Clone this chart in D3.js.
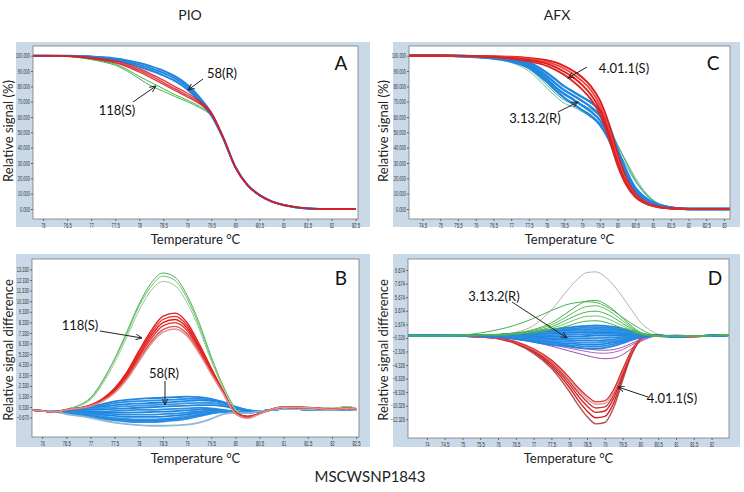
<!DOCTYPE html>
<html><head><meta charset="utf-8">
<script src="https://cdn.jsdelivr.net/npm/d3@7"></script>
<style>
body{margin:0;background:#fff;}
svg{display:block;font-family:Lato,"Open Sans",sans-serif;}
</style></head>
<body><svg id="c" width="744" height="492"></svg>
<script>
// ---------- DATA ----------
const tempA = [75.79,76,76.5,77,77.25,77.5,77.75,78,78.25,78.5,78.75,79,79.25,79.5,79.75,80,80.25,80.5,80.75,81,81.25,81.5,82,82.5];
const meltA_green118 = [
 [100,100,99.6,97.8,96.4,94.5,91.0,86.5,82.5,78.5,74.5,71.0,67.0,61.0,45.8,27.0,15.5,9.0,5.0,2.6,1.2,0.4,0,0],
 [100,100,99.5,97.5,95.9,93.8,90.0,85.0,80.2,76.8,73.3,70.0,66.2,60.5,45.6,26.9,15.5,9.0,5.0,2.6,1.2,0.4,0,0]];
const meltA_red118 = [
 [100,100,99.8,98.8,97.9,96.6,94.5,91.5,88.0,84.0,79.7,75.5,70.5,63.0,46.5,27.2,15.6,9.1,5.0,2.6,1.2,0.4,0,0],
 [100,100,99.7,98.5,97.4,95.9,93.6,90.4,86.8,82.6,78.3,74.2,69.5,62.4,46.2,27.1,15.6,9.1,5.0,2.6,1.2,0.4,0,0],
 [100,100,99.6,98.2,97.0,95.3,92.8,89.4,85.6,81.4,77.2,73.2,68.7,61.9,46.0,27.0,15.5,9.0,5.0,2.6,1.2,0.4,0,0]];
const meltA_blue58 = [
 [100,100,99.9,99.5,99.0,98.2,96.9,95.2,93.0,90.3,86.5,81.0,73.0,62.5,46.5,27.5,15.8,9.2,5.0,2.6,1.2,0.4,0,0],
 [100,100,99.8,99.3,98.6,97.6,96.0,94.0,91.6,88.8,85.0,79.5,71.5,61.5,46.0,27.3,15.7,9.1,5.0,2.6,1.2,0.4,0,0],
 [100,100,99.8,99.1,98.2,97.0,95.2,92.8,90.2,87.2,83.4,78.0,70.5,61.0,45.7,27.2,15.6,9.1,5.0,2.6,1.2,0.4,0,0]];

const tempC = [74.12,75,75.5,76,76.5,77,77.5,78,78.25,78.5,78.75,79,79.25,79.5,79.75,80,80.25,80.5,80.75,81,81.5,82,83.17];
const meltC_teal = [
 [100,100,99.8,99.2,98.2,96.2,91.5,81.0,75.5,71.0,68.5,65.0,61.5,56.0,48.5,39.0,28.0,18.0,10.5,5.2,1.2,0.1,0],
 [100,100,99.7,99.0,97.8,95.5,90.0,79.0,73.5,69.0,66.5,63.5,60.0,55.5,49.0,41.0,31.0,20.5,12.0,6.0,1.4,0.2,0],
 [100,100,99.8,99.3,98.5,96.8,93.0,84.0,79.0,74.5,71.0,68.0,65.0,60.5,53.0,42.0,30.0,19.0,11.0,5.5,1.3,0.1,0]];
const meltC_blue3132 = [
 [100,100,99.9,99.6,99.0,97.9,95.5,89.0,84.5,80.0,76.5,73.0,69.5,64.5,55.0,39.0,25.0,14.0,8.0,4.2,1.0,0,0],
 [100,100,99.8,99.4,98.7,97.3,94.3,87.0,82.0,77.5,74.0,70.5,66.5,61.0,51.0,35.5,22.5,12.5,7.2,3.8,0.9,0,0],
 [100,100,99.8,99.3,98.4,96.8,93.2,85.0,79.5,75.0,71.5,67.5,63.5,58.0,48.0,33.0,21.0,11.8,6.8,3.6,0.8,0,0],
 [100,100,99.7,99.1,98.1,96.2,92.0,83.0,77.5,72.5,68.5,64.5,60.5,55.0,45.5,31.0,19.5,11.0,6.3,3.3,0.7,0,0]];
const meltC_red4011 = [
 [100,100,100,99.9,99.7,99.3,98.5,97.0,95.6,93.2,90.0,86.0,80.0,71.0,56.0,36.0,20.0,10.0,5.0,2.5,0.5,0,0],
 [100,100,99.9,99.8,99.5,99.0,97.9,96.0,94.2,91.5,88.0,83.5,77.5,68.0,52.5,33.0,18.0,9.0,4.5,2.2,0.4,0,0],
 [100,100,99.9,99.7,99.3,98.6,97.2,94.8,92.6,89.5,85.8,81.0,74.5,65.0,49.5,30.5,16.5,8.3,4.2,2.0,0.3,0,0],
 [100,100,99.8,99.5,99.0,98.0,96.4,93.4,90.8,87.5,83.2,78.0,71.5,62.0,46.5,28.5,15.5,7.8,4.0,1.9,0.3,0,0]];

const tempB = [75.79,76,76.25,76.5,77,77.25,77.5,77.75,78,78.25,78.5,78.75,79,79.25,79.5,79.75,80,80.25,80.5,80.75,81,81.5,82,82.3,82.5];
const diffB_blue58 = [
 [0.05,-0.05,-0.1,0.05,0.35,0.6,0.85,1.0,1.1,1.15,1.2,1.25,1.3,1.25,1.1,0.8,0.35,0.05,-0.1,0.05,0.15,0.1,0.05,0.1,0.05],
 [0.05,-0.05,-0.1,0.02,0.28,0.48,0.68,0.8,0.88,0.92,0.98,1.02,1.1,1.1,1.0,0.75,0.32,0.02,-0.1,0.05,0.15,0.1,0.05,0.1,0.05],
 [0.05,-0.05,-0.1,0.0,0.2,0.35,0.5,0.6,0.65,0.7,0.75,0.8,0.9,0.95,0.9,0.7,0.3,0.0,-0.1,0.05,0.15,0.1,0.05,0.1,0.05],
 [0.05,-0.05,-0.1,0.0,0.12,0.22,0.32,0.4,0.45,0.5,0.55,0.6,0.68,0.72,0.7,0.55,0.22,-0.02,-0.1,0.05,0.15,0.1,0.05,0.1,0.05],
 [0.05,-0.05,-0.1,0.0,0.05,0.1,0.15,0.2,0.25,0.3,0.35,0.4,0.45,0.5,0.5,0.4,0.15,-0.05,-0.1,0.05,0.15,0.1,0.05,0.1,0.05],
 [0.05,-0.05,-0.1,-0.05,-0.1,-0.1,-0.05,0.0,0.05,0.05,0.1,0.15,0.2,0.25,0.2,0.05,-0.1,-0.15,-0.1,0.05,0.15,0.1,0.05,0.1,0.05],
 [0.05,-0.05,-0.1,-0.05,-0.15,-0.2,-0.2,-0.2,-0.18,-0.15,-0.12,-0.08,0.0,0.08,0.1,0.0,-0.12,-0.18,-0.1,0.05,0.15,0.1,0.05,0.1,0.05],
 [0.05,-0.05,-0.1,-0.1,-0.2,-0.3,-0.35,-0.4,-0.4,-0.4,-0.35,-0.3,-0.2,-0.1,0.0,-0.05,-0.15,-0.2,-0.1,0.05,0.15,0.1,0.05,0.1,0.05],
 [0.05,-0.05,-0.1,-0.15,-0.3,-0.42,-0.52,-0.6,-0.62,-0.62,-0.58,-0.5,-0.38,-0.22,-0.08,-0.08,-0.15,-0.2,-0.1,0.05,0.15,0.1,0.05,0.1,0.05],
 [0.05,-0.05,-0.1,-0.2,-0.4,-0.55,-0.7,-0.8,-0.85,-0.85,-0.8,-0.7,-0.55,-0.35,-0.15,-0.1,-0.15,-0.2,-0.1,0.05,0.15,0.1,0.05,0.1,0.05],
 [0.05,-0.05,-0.1,-0.25,-0.5,-0.68,-0.82,-0.92,-0.98,-0.98,-0.92,-0.82,-0.68,-0.45,-0.22,-0.12,-0.18,-0.22,-0.1,0.05,0.15,0.1,0.05,0.1,0.05],
 [0.05,-0.05,-0.1,-0.3,-0.6,-0.8,-0.95,-1.05,-1.1,-1.1,-1.05,-0.95,-0.8,-0.55,-0.3,-0.15,-0.2,-0.25,-0.1,0.05,0.15,0.1,0.05,0.1,0.05],
 [0.05,-0.05,-0.1,-0.35,-0.7,-0.95,-1.15,-1.3,-1.4,-1.45,-1.45,-1.42,-1.35,-1.15,-0.8,-0.35,-0.2,-0.25,-0.1,0.05,0.15,0.1,0.05,0.1,0.05]];
const diffB_green118 = [
 [0.05,-0.05,-0.15,0.1,1.2,2.8,4.9,7.4,10.0,12.0,13.0,12.6,10.9,8.3,5.1,2.3,0.2,-0.6,-0.3,0.15,0.35,0.3,0.2,0.35,0.2],
 [0.05,-0.05,-0.15,0.1,1.1,2.7,4.8,7.2,9.8,11.7,12.7,12.3,10.6,8.0,4.9,2.2,0.1,-0.6,-0.3,0.15,0.35,0.3,0.2,0.35,0.2],
 [0.05,-0.05,-0.15,0.1,1.0,2.5,4.5,6.9,9.4,11.3,12.2,11.8,10.2,7.7,4.7,2.1,0.1,-0.55,-0.3,0.15,0.35,0.3,0.2,0.35,0.2]];
const diffB_red118 = [
 [0.05,-0.05,-0.15,0.05,0.5,1.1,2.1,3.6,5.6,7.5,8.9,9.2,8.3,6.3,4.0,1.8,-0.2,-0.6,-0.3,0.1,0.3,0.25,0.1,0.2,0.1],
 [0.05,-0.05,-0.15,0.05,0.5,1.05,2.0,3.45,5.4,7.25,8.6,8.9,8.05,6.1,3.9,1.75,-0.2,-0.6,-0.3,0.1,0.3,0.25,0.1,0.2,0.1],
 [0.05,-0.05,-0.15,0.05,0.45,1.0,1.9,3.3,5.2,7.0,8.3,8.6,7.8,5.9,3.75,1.7,-0.2,-0.55,-0.3,0.1,0.3,0.25,0.1,0.2,0.1],
 [0.05,-0.05,-0.15,0.05,0.45,0.95,1.8,3.15,5.0,6.75,8.0,8.3,7.55,5.75,3.65,1.65,-0.25,-0.6,-0.3,0.1,0.3,0.25,0.1,0.2,0.1],
 [0.05,-0.05,-0.15,0.05,0.4,0.9,1.7,3.0,4.75,6.45,7.65,7.95,7.25,5.55,3.5,1.6,-0.3,-0.7,-0.3,0.1,0.3,0.25,0.1,0.2,0.1],
 [0.05,-0.05,-0.15,0.05,0.4,0.85,1.65,2.9,4.6,6.25,7.4,7.7,7.05,5.4,3.45,1.6,-0.3,-0.75,-0.35,0.1,0.3,0.25,0.1,0.2,0.1]];

const tempD = [73.47,74,74.5,75,75.5,76,76.5,77,77.5,78,78.25,78.5,78.75,79,79.25,79.5,79.75,80,80.25,80.5,81,81.5,82,82.49];
const diffD_grey = [0,0,0,0,0.05,0.15,0.5,1.5,3.8,7.0,8.4,9.3,9.4,8.7,7.4,5.7,3.8,2.0,0.9,0.2,-0.1,-0.1,0,0];
const diffD_green = [
 [0,0,0.05,0.1,0.4,0.88,1.57,2.55,3.7,4.67,4.9,5.0,4.9,4.4,3.6,2.7,1.8,1.0,0.3,0.0,-0.1,-0.05,0,0.1],
 [0,0,0,0,0.05,0.15,0.4,0.9,1.9,3.6,4.5,5.1,5.2,4.7,3.8,2.6,1.4,0.5,0.1,-0.1,-0.1,-0.05,0,0.1],
 [0,0,0,0,0.05,0.12,0.35,0.8,1.6,3.0,3.8,4.3,4.4,4.0,3.2,2.2,1.2,0.4,0.05,-0.1,-0.1,-0.05,0,0.1],
 [0,0,0,0,0.05,0.1,0.3,0.65,1.3,2.5,3.1,3.5,3.6,3.3,2.65,1.8,1.0,0.35,0.05,-0.1,-0.1,-0.05,0,0.1],
 [0,0,0,0,0.03,0.08,0.25,0.55,1.05,2.0,2.5,2.85,2.9,2.65,2.1,1.45,0.8,0.3,0.0,-0.1,-0.1,-0.05,0,0.1],
 [0,0,0,0,0.02,0.05,0.2,0.45,0.85,1.5,1.9,2.15,2.2,2.0,1.6,1.1,0.6,0.2,0.0,-0.1,-0.1,-0.05,0,0.1]];
const diffD_purple = [
 [0,0,0,0,-0.05,-0.2,-0.5,-0.95,-1.55,-2.25,-2.6,-2.95,-3.25,-3.4,-3.3,-2.8,-1.9,-0.9,-0.3,0,0.05,0,0,0],
 [0,0,0,0,-0.05,-0.15,-0.4,-0.8,-1.3,-1.85,-2.1,-2.35,-2.55,-2.6,-2.45,-2.05,-1.4,-0.7,-0.2,0,0.05,0,0,0],
 [0,0,0,0,-0.03,-0.1,-0.3,-0.6,-1.0,-1.5,-1.75,-1.95,-2.1,-2.15,-2.05,-1.7,-1.15,-0.55,-0.15,0,0.05,0,0,0]];
const diffD_red4011 = [
 [0,0,0,-0.05,-0.2,-0.45,-1.2,-2.6,-4.8,-8.2,-10.2,-11.9,-13.0,-12.8,-10.6,-6.6,-2.9,-0.6,0.15,0.1,-0.25,-0.15,0,0.1],
 [0,0,0,-0.05,-0.2,-0.42,-1.1,-2.4,-4.5,-7.6,-9.5,-11.1,-12.1,-11.9,-9.9,-6.1,-2.7,-0.55,0.15,0.1,-0.25,-0.15,0,0.1],
 [0,0,0,-0.05,-0.2,-0.4,-1.05,-2.25,-4.2,-7.1,-8.9,-10.35,-11.3,-11.1,-9.2,-5.7,-2.5,-0.5,0.15,0.1,-0.25,-0.15,0,0.1],
 [0,0,0,-0.05,-0.18,-0.37,-1.0,-2.15,-3.95,-6.7,-8.35,-9.75,-10.65,-10.5,-8.7,-5.4,-2.4,-0.5,0.15,0.1,-0.25,-0.15,0,0.1],
 [0,0,0,-0.05,-0.17,-0.35,-0.95,-2.05,-3.75,-6.4,-7.95,-9.3,-10.1,-10.0,-8.3,-5.2,-2.3,-0.5,0.15,0.1,-0.25,-0.15,0,0.1],
 [0,0,0,-0.05,-0.16,-0.34,-0.9,-1.95,-3.6,-6.15,-7.65,-8.9,-9.75,-9.6,-7.95,-5.0,-2.2,-0.45,0.15,0.1,-0.25,-0.15,0,0.1]];
const diffD_blue3132 = [
 [0,0,0,0,0.05,0.15,0.35,0.6,0.9,1.2,1.35,1.45,1.5,1.45,1.3,1.05,0.7,0.35,0.1,-0.05,-0.1,-0.05,0,0.1],
 [0,0,0,0,0.04,0.12,0.3,0.5,0.75,1.0,1.12,1.2,1.25,1.2,1.08,0.88,0.58,0.28,0.08,-0.05,-0.1,-0.05,0,0.1],
 [0,0,0,0,0.03,0.1,0.25,0.4,0.6,0.8,0.9,0.95,1.0,0.95,0.85,0.7,0.45,0.2,0.05,-0.05,-0.1,-0.05,0,0.1],
 [0,0,0,0,0.01,0.07,0.17,0.3,0.45,0.6,0.68,0.72,0.75,0.72,0.65,0.52,0.33,0.12,0,-0.05,-0.1,-0.05,0,0.1],
 [0,0,0,0,0,0.05,0.1,0.2,0.3,0.4,0.45,0.5,0.5,0.5,0.45,0.35,0.2,0.05,-0.05,-0.05,-0.1,-0.05,0,0.1],
 [0,0,0,0,-0.01,0,0,0.02,0.08,0.15,0.18,0.22,0.25,0.25,0.25,0.2,0.1,0,-0.08,-0.05,-0.1,-0.05,0,0.1],
 [0,0,0,0,-0.03,-0.05,-0.1,-0.15,-0.15,-0.1,-0.1,-0.05,0,0,0.05,0.05,0,-0.05,-0.1,-0.05,-0.1,-0.05,0,0.1],
 [0,0,0,0,-0.04,-0.08,-0.18,-0.28,-0.35,-0.38,-0.4,-0.38,-0.35,-0.32,-0.25,-0.18,-0.12,-0.08,-0.07,-0.02,-0.1,-0.05,0,0.1],
 [0,0,0,0,-0.05,-0.1,-0.25,-0.4,-0.55,-0.65,-0.7,-0.7,-0.7,-0.65,-0.55,-0.4,-0.25,-0.1,-0.05,0,-0.1,-0.05,0,0.1],
 [0,0,0,0,-0.05,-0.12,-0.3,-0.52,-0.75,-0.9,-0.98,-1.0,-1.0,-0.92,-0.78,-0.58,-0.35,-0.15,-0.05,0,-0.1,-0.05,0,0.1],
 [0,0,0,0,-0.05,-0.15,-0.35,-0.65,-0.95,-1.15,-1.25,-1.3,-1.3,-1.2,-1.0,-0.75,-0.45,-0.2,-0.05,0,-0.1,-0.05,0,0.1],
 [0,0,0,0,-0.05,-0.18,-0.42,-0.78,-1.15,-1.38,-1.52,-1.6,-1.6,-1.5,-1.25,-0.92,-0.55,-0.22,-0.05,0,-0.1,-0.05,0,0.1],
 [0,0,0,0,-0.05,-0.2,-0.5,-0.9,-1.35,-1.6,-1.8,-1.9,-1.9,-1.8,-1.5,-1.1,-0.65,-0.25,-0.05,0,-0.1,-0.05,0,0.1]];

const ticksXA = [76,76.5,77,77.5,78,78.5,79,79.5,80,80.5,81,81.5,82,82.5];
const ticksXC = [74.5,75,75.5,76,76.5,77,77.5,78,78.5,79,79.5,80,80.5,81,81.5,82,82.5,83];
const ticksXD = [74,74.5,75,75.5,76,76.5,77,77.5,78,78.5,79,79.5,80,80.5,81,81.5,82];
const ticksYMelt = [0,10,20,30,40,50,60,70,80,90,100];
const ticksYB = [13.33,12.33,11.33,10.33,9.33,8.33,7.33,6.33,5.33,4.33,3.33,2.33,1.33,0.33,-0.67];
const ticksYD = [9.674,7.674,5.674,3.674,1.674,-0.326,-2.326,-4.326,-6.326,-8.326,-10.326,-12.326];

// ---------- DRAW ----------
const svg = d3.select("#c");
const BG = "#c9d9e8";

function panel(cfg){
  const g = svg.append("g");
  g.append("rect").attr("x",cfg.bg[0]).attr("y",cfg.bg[1]).attr("width",cfg.bg[2]-cfg.bg[0]).attr("height",cfg.bg[3]-cfg.bg[1]).attr("fill",BG);
  const [x0,y0,x1,y1] = cfg.plot;
  g.append("rect").attr("x",x0).attr("y",y0).attr("width",x1-x0).attr("height",y1-y0).attr("fill","#fff");
  const x = d3.scaleLinear().domain(cfg.xDom).range([x0,x1]);
  const y = d3.scaleLinear().domain(cfg.yDom).range([y1,y0]);
  const clipId = "clip"+cfg.id;
  g.append("clipPath").attr("id",clipId).append("rect").attr("x",x0).attr("y",y0).attr("width",x1-x0).attr("height",y1-y0);
  const lines = g.append("g").attr("clip-path",`url(#${clipId})`);
  const line = d3.line().x(d=>x(d[0])).y(d=>y(d[1])).curve(d3.curveMonotoneX);
  cfg.groups.forEach(gr=>{
    gr.series.forEach((s,i)=>{
      lines.append("path").datum(cfg.temps.map((t,j)=>[t,s[j]]))
        .attr("d",line).attr("fill","none")
        .attr("stroke",Array.isArray(gr.color)?gr.color[i%gr.color.length]:gr.color)
        .attr("stroke-width",gr.w||1).attr("stroke-opacity",gr.op||1);
    });
  });
  g.append("rect").attr("x",x0).attr("y",y0).attr("width",x1-x0).attr("height",y1-y0).attr("fill","none").attr("stroke","#7a7a7a").attr("stroke-width",0.8);
  const ax = g.append("g").attr("transform",`translate(0,${y1})`).call(d3.axisBottom(x).tickValues(cfg.xTicks).tickSize(2).tickFormat(d3.format("")));
  const ay = g.append("g").attr("transform",`translate(${x0},0)`).call(d3.axisLeft(y).tickValues(cfg.yTicks).tickSize(2).tickFormat(d3.format(".3f")));
  [ax,ay].forEach(a=>{
    a.select(".domain").remove();
    a.selectAll(".tick line").attr("stroke","#666");
    a.selectAll(".tick text").attr("fill","#333").style("font-family","'Liberation Sans',sans-serif").attr("font-size",6.5)
      .attr("lengthAdjust","spacingAndGlyphs").attr("textLength",function(){return this.textContent.length*2.05;});
  });
  ax.selectAll(".tick text").attr("y",4);
  ay.selectAll(".tick text").attr("x",-3);
  g.append("text").attr("x",cfg.letter[0]).attr("y",cfg.letter[1]).attr("font-size",19).attr("text-anchor","middle").attr("fill","#111").text(cfg.id);
  g.append("text").attr("x",(x0+x1)/2).attr("y",cfg.xTitleY).attr("font-size",13).attr("text-anchor","middle").attr("fill","#222").text("Temperature °C");
  g.append("text").attr("transform",`translate(${cfg.yTitle[0]},${cfg.yTitle[1]}) rotate(-90)`).attr("font-size",13).attr("text-anchor","middle").attr("fill","#222").text(cfg.yLabel);
  return {g,x,y};
}

const GREEN="#3db54a", RED="#e3191c", BLUE="#1f86e0";
panel({id:"A",bg:[16,42,370,227],plot:[33,46,358,219],xDom:[75.79,82.55],yDom:[-6.52,106.33],temps:tempA,
  xTicks:ticksXA,yTicks:ticksYMelt,letter:[341,70],xTitleY:244,yTitle:[13,131],yLabel:"Relative signal (%)",
  groups:[{series:meltA_green118,color:GREEN,w:1},{series:meltA_blue58,color:BLUE,w:2},{series:meltA_red118,color:["#e3191c","#c8283c","#e3191c"],w:1.4,op:0.85}]});
panel({id:"C",bg:[393,42,740,227],plot:[409,46,730,219],xDom:[74.12,83.17],yDom:[-6.52,106.33],temps:tempC,
  xTicks:ticksXC,yTicks:ticksYMelt,letter:[713,70],xTitleY:244,yTitle:[388,131],yLabel:"Relative signal (%)",
  groups:[{series:meltC_teal,color:["#3aa58a","#5fb89a","#2c9c7c"],w:0.9},{series:meltC_blue3132,color:BLUE,w:2.3},{series:meltC_red4011,color:[RED,"#e84a40",RED,"#d42a2a"],w:1.9}]});
panel({id:"B",bg:[16,254,370,447],plot:[32,259,359,437],xDom:[75.79,82.56],yDom:[-2.515,14.323],temps:tempB,
  xTicks:ticksXA,yTicks:ticksYB,letter:[341,285],xTitleY:463,yTitle:[13,350],yLabel:"Relative signal difference",
  groups:[{series:diffB_blue58,color:[BLUE,"#2a8ee6",BLUE,"#3a95e8",BLUE,"#2a8ee6",BLUE,"#2a8ee6",BLUE,"#3a95e8",BLUE,"#2a8ee6","#8fb8d6"],w:1.8},
          {series:diffB_green118,color:["#4cb050","#6cc070","#8fcf94"],w:1},
          {series:diffB_red118,color:[RED,"#e82a20",RED,"#e0302a","#d85050","#e49090"],w:1.4}]});
panel({id:"D",bg:[393,254,740,447],plot:[408,259,729,438],xDom:[73.47,82.49],yDom:[-15.08,11.295],temps:tempD,
  xTicks:ticksXD,yTicks:ticksYD,letter:[715,285],xTitleY:463,yTitle:[388,350],yLabel:"Relative signal difference",
  groups:[{series:[diffD_grey],color:"#b5b0b0",w:1},
          {series:diffD_purple,color:["#9a4fb0","#b060c0","#a050b8"],w:1},
          {series:diffD_red4011,color:["#b05050","#d42020","#e02424","#b84040","#d9a0a0","#e23030"],w:1.4},
          {series:diffD_blue3132,color:[BLUE,"#2a8ee6",BLUE,"#3a95e8",BLUE,"#2a8ee6",BLUE,"#2a8ee6",BLUE,"#3a95e8",BLUE,"#2a8ee6",BLUE],w:1.8},
          {series:diffD_green,color:["#4cb050","#3fb24a","#5cbc62","#48b050","#6cc070","#40ae4a"],w:1}]});

// annotations
const defs = svg.append("defs");
defs.append("marker").attr("id","arr").attr("viewBox","0 0 10 10").attr("refX",9).attr("refY",5)
  .attr("markerWidth",7).attr("markerHeight",7).attr("orient","auto")
  .append("path").attr("d","M0,1 L9,5 L0,9").attr("fill","none").attr("stroke","#222").attr("stroke-width",1.3);
const notes = [
  {t:"58(R)",x:222,y:78,a:[203,79,188,90]},
  {t:"118(S)",x:117,y:115,a:[133,102,156,86]},
  {t:"4.01.1(S)",x:624,y:73,a:[587,67,568,78]},
  {t:"3.13.2(R)",x:535,y:123,a:[558,112,578,102]},
  {t:"118(S)",x:80,y:330,a:[100,331,142,338]},
  {t:"58(R)",x:164,y:378,a:[165,381,165,405]},
  {t:"3.13.2(R)",x:494,y:301,a:[512,302,567,338]},
  {t:"4.01.1(S)",x:672,y:403,a:[648,397,618,387]}
];
notes.forEach(n=>{
  svg.append("text").attr("x",n.x).attr("y",n.y).attr("text-anchor","middle").attr("font-size",13).attr("fill","#111").text(n.t);
  svg.append("line").attr("x1",n.a[0]).attr("y1",n.a[1]).attr("x2",n.a[2]).attr("y2",n.a[3]).attr("stroke","#222").attr("stroke-width",1).attr("marker-end","url(#arr)");
});
svg.append("text").attr("x",190).attr("y",20).attr("text-anchor","middle").attr("font-size",14).attr("fill","#222").text("PIO");
svg.append("text").attr("x",557).attr("y",20).attr("text-anchor","middle").attr("font-size",14).attr("fill","#222").text("AFX");
svg.append("text").attr("x",370).attr("y",482).attr("text-anchor","middle").attr("font-size",15).attr("fill","#222").text("MSCWSNP1843");
</script></body></html>
